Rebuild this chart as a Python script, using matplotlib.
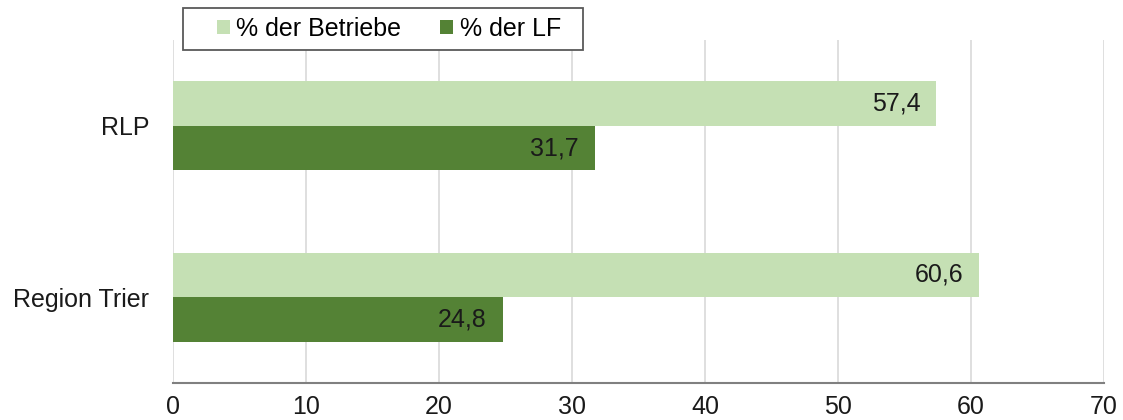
import numpy as np
import matplotlib
matplotlib.use('Agg')
from matplotlib import pyplot as plt
from matplotlib.patches import Rectangle

plt.rcParams['font.family'] = ['Liberation Sans', 'DejaVu Sans']

# Daten
regionen = ['Region Trier', 'RLP']
betriebe = [60.6, 57.4]
lf = [24.8, 31.7]
labels = ['% der Betriebe', '% der LF']

hell = '#c5e0b4'
dunkel = '#548235'
fs = 18

W, H = 1123, 420
fig = plt.figure(figsize=(W / 100, H / 100), dpi=100)
ax = fig.add_axes([173 / W, 1 - 383 / H, (1104 - 173) / W, (383 - 40) / H])

y = np.arange(len(regionen))
h = 0.26
b1 = ax.barh(y + h / 2, betriebe, height=h, color=hell, label=labels[0], zorder=2)
b2 = ax.barh(y - h / 2, lf, height=h, color=dunkel, label=labels[1], zorder=2)

# Werte in die Balken schreiben
for bars, vals in [(b1, betriebe), (b2, lf)]:
    for r, v in zip(bars, vals):
        ax.text(r.get_width() - 1.2, r.get_y() + r.get_height() / 2,
                f'{v:.1f}'.replace('.', ','), ha='right', va='center',
                fontsize=fs, color='#1a1a1a', zorder=3)

ax.set_xlim(0, 70)
ax.set_ylim(-0.5, 1.5)
ax.set_xticks(range(0, 71, 10))
ax.set_yticks(y)
ax.set_yticklabels(regionen)
ax.tick_params(axis='both', labelsize=fs, colors='#1a1a1a', length=0)
ax.tick_params(axis='x', pad=9)
ax.tick_params(axis='y', pad=17)
ax.grid(axis='x', color='#d9d9d9', linewidth=1.2, zorder=0)
for s in ['top', 'right', 'left']:
    ax.spines[s].set_visible(False)
ax.spines['bottom'].set_color('#808080')
ax.spines['bottom'].set_linewidth(1.5)

# Legende mit eigenem Rahmen
fig.patches.append(Rectangle((183 / W, 1 - 50 / H), 400 / W, 42 / H,
                             transform=fig.transFigure, facecolor='white',
                             edgecolor='#595959', linewidth=1.3, zorder=4))
leg = fig.legend(handles=[b1, b2], labels=labels, loc='center left',
                 bbox_to_anchor=(217 / W, 1 - 29 / H), ncol=2,
                 fontsize=fs, frameon=False,
                 handlelength=0.5, handleheight=0.5, handletextpad=0.28,
                 columnspacing=1.55, borderpad=0, borderaxespad=0)
leg.set_zorder(5)

fig.savefig('out.png', dpi=100)
